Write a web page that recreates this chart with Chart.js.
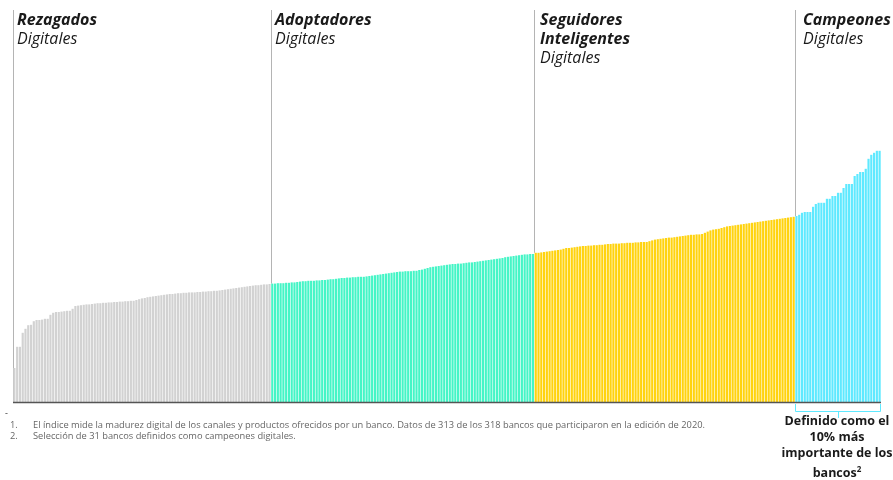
<!DOCTYPE html>
<html>
<head>
<meta charset="utf-8">
<script src="https://cdn.jsdelivr.net/npm/chart.js@4"></script>
<style>
  html, body { margin: 0; padding: 0; background: #fff; }
  #wrap { position: relative; width: 893px; height: 480px; overflow: hidden; font-family: "Open Sans", sans-serif; }
  #chart { position: absolute; left: 0; top: 0; }
  .grp { position: absolute; top: 10px; font-size: 16px; line-height: 19px; color: #1a1a1a; font-style: italic; }
  .grp b { font-weight: 700; }
  .note { position: absolute; left: 10px; font-size: 9.3px; color: #666; white-space: nowrap; }
  .note span { display: inline-block; width: 23px; }
  #callout { position: absolute; left: 767px; width: 140px; top: 413px; text-align: center; font-weight: 700; font-size: 12.5px; line-height: 16px; color: #1a1a1a; white-space: nowrap; }
  #callout sup { font-size: 8px; }
</style>
</head>
<body>
<div id="wrap">
  <canvas id="chart" width="893" height="480"></canvas>
  <div class="grp" style="left:17px"><b>Rezagados</b><br>Digitales</div>
  <div class="grp" style="left:275px"><b>Adoptadores</b><br>Digitales</div>
  <div class="grp" style="left:540px"><b>Seguidores<br>Inteligentes</b><br>Digitales</div>
  <div class="grp" style="left:803px"><b>Campeones</b><br>Digitales</div>
  <div style="position:absolute;left:5px;top:406px;font-size:9px;color:#333">-</div>
  <div class="note" style="top:418px"><span>1.</span>El índice mide la madurez digital de los canales y productos ofrecidos por un banco. Datos de 313 de los 318 bancos que participaron en la edición de 2020.</div>
  <div class="note" style="top:429px"><span>2.</span>Selección de 31 bancos definidos como campeones digitales.</div>
  <div id="callout">Definido como el<br>10% más<br>importante de los<br>bancos<sup>2</sup></div>
</div>
<script>
const groupNames = ['Rezagados Digitales', 'Adoptadores Digitales', 'Seguidores Inteligentes Digitales', 'Campeones Digitales'];
const groupColors = ['#d2d2d2', '#45f5c6', '#ffd30f', '#5fe9ff'];

const rezagados = [
  8.5, 13.8, 13.8, 17.3, 18.3, 19.2, 19.3, 20.2, 20.5, 20.5,
  20.6, 20.8, 20.8, 21.8, 22.3, 22.5, 22.5, 22.6, 22.7, 22.8,
  22.8, 23.3, 24.0, 24.1, 24.2, 24.3, 24.4, 24.4, 24.5, 24.6,
  24.7, 24.7, 24.8, 24.8, 24.9, 24.9, 25.0, 25.0, 25.1, 25.1,
  25.2, 25.2, 25.3, 25.3, 25.5, 25.7, 25.9, 26.0, 26.2, 26.3,
  26.4, 26.5, 26.6, 26.7, 26.8, 26.9, 27.0, 27.0, 27.1, 27.2,
  27.2, 27.3, 27.3, 27.4, 27.4, 27.4, 27.5, 27.5, 27.6, 27.6,
  27.7, 27.7, 27.8, 27.8, 27.9, 28.0, 28.1, 28.2, 28.3, 28.4,
  28.5, 28.6, 28.7, 28.8, 28.9, 29.0, 29.1, 29.2, 29.2, 29.3,
  29.4, 29.4, 29.5
];
const adoptadores = [
  29.6, 29.6, 29.7, 29.7, 29.7, 29.8, 29.8, 29.9, 29.9, 30.0,
  30.1, 30.2, 30.2, 30.3, 30.3, 30.3, 30.4, 30.4, 30.5, 30.5,
  30.6, 30.7, 30.7, 30.8, 30.9, 31.0, 31.0, 31.1, 31.1, 31.2,
  31.2, 31.3, 31.3, 31.3, 31.4, 31.5, 31.6, 31.7, 31.8, 31.9,
  32.0, 32.1, 32.2, 32.3, 32.4, 32.5, 32.6, 32.6, 32.7, 32.7,
  32.7, 32.8, 32.8, 33.0, 33.1, 33.3, 33.5, 33.7, 33.8, 33.9,
  34.0, 34.1, 34.2, 34.3, 34.4, 34.5, 34.5, 34.6, 34.6, 34.7,
  34.8, 34.9, 34.9, 35.0, 35.1, 35.2, 35.3, 35.4, 35.5, 35.6,
  35.7, 35.8, 35.9, 36.0, 36.2, 36.3, 36.4, 36.5, 36.6, 36.7,
  36.8, 36.9, 36.9, 37.0, 37.0
];
const seguidores = [
  37.3, 37.3, 37.4, 37.5, 37.6, 37.7, 37.8, 37.9, 38.0, 38.1,
  38.3, 38.5, 38.5, 38.6, 38.7, 38.8, 38.9, 39.0, 39.0, 39.1,
  39.1, 39.2, 39.2, 39.3, 39.3, 39.4, 39.5, 39.5, 39.6, 39.6,
  39.6, 39.7, 39.7, 39.8, 39.8, 39.8, 39.9, 39.9, 40.0, 40.0,
  40.0, 40.2, 40.4, 40.6, 40.7, 40.8, 40.9, 41.0, 41.1, 41.1,
  41.2, 41.3, 41.4, 41.5, 41.6, 41.7, 41.8, 41.8, 41.9, 41.9,
  42.0, 42.3, 42.6, 42.9, 43.1, 43.2, 43.3, 43.5, 43.7, 43.9,
  44.0, 44.1, 44.2, 44.3, 44.4, 44.5, 44.6, 44.7, 44.8, 44.9,
  45.0, 45.1, 45.2, 45.3, 45.4, 45.5, 45.6, 45.7, 45.8, 45.9,
  46.0, 46.1, 46.2, 46.3
];
const campeones = [
  46.5, 46.8, 47.3, 47.5, 47.5, 47.5, 48.8, 49.5, 49.8, 49.8,
  49.8, 50.8, 50.8, 51.5, 51.5, 52.3, 52.3, 53.5, 54.5, 54.5,
  54.5, 56.5, 57.0, 57.5, 57.5, 58.3, 60.8, 61.8, 62.3, 62.8,
  62.8
];

const groups = [rezagados, adoptadores, seguidores, campeones];
const values = [].concat(...groups);
const labels = values.map((v, i) => 'Banco ' + (i + 1));
const colors = [];
groups.forEach((g, gi) => g.forEach(() => colors.push(groupColors[gi])));

// dividers, baseline and bracket
const decor = {
  id: 'decor',
  beforeDatasetsDraw(chart) {
    const { ctx, chartArea, scales: { x, y } } = chart;
    const step = x.getPixelForValue(1) - x.getPixelForValue(0);
    ctx.save();
    ctx.strokeStyle = '#b4b4b4';
    ctx.lineWidth = 1;
    let idx = 0;
    groups.forEach((g, gi) => {
      const px = Math.round(x.getPixelForValue(idx) - step / 2) + 0.5;
      const endY = gi === 0 ? y.getPixelForValue(0) : y.getPixelForValue(Math.max(values[idx], values[idx - 1]));
      ctx.beginPath();
      ctx.moveTo(px, chartArea.top);
      ctx.lineTo(px, endY);
      ctx.stroke();
      idx += g.length;
    });
    ctx.restore();
  },
  afterDatasetsDraw(chart) {
    const { ctx, chartArea, scales: { x, y } } = chart;
    const step = x.getPixelForValue(1) - x.getPixelForValue(0);
    const base = y.getPixelForValue(0);
    ctx.save();
    ctx.strokeStyle = '#555';
    ctx.lineWidth = 1.5;
    ctx.beginPath();
    ctx.moveTo(chartArea.left, base + 0.5);
    ctx.lineTo(chartArea.right, base + 0.5);
    ctx.stroke();
    // bracket under the champions
    const start = values.length - campeones.length;
    const x0 = Math.round(x.getPixelForValue(start) - step / 2) + 0.5;
    const x1 = Math.round(x.getPixelForValue(values.length - 1) + step / 2) - 0.5;
    const xm = Math.round((x0 + x1) / 2) + 0.5;
    ctx.strokeStyle = '#5fe9ff';
    ctx.lineWidth = 1;
    ctx.beginPath();
    ctx.moveTo(x0, base + 2);
    ctx.lineTo(x0, base + 9.5);
    ctx.lineTo(x1, base + 9.5);
    ctx.lineTo(x1, base + 2);
    ctx.moveTo(xm, base + 9.5);
    ctx.lineTo(xm, base + 16);
    ctx.stroke();
    ctx.restore();
  }
};

new Chart(document.getElementById('chart'), {
  type: 'bar',
  data: {
    labels: labels,
    datasets: [{
      label: 'Índice de madurez digital',
      data: values,
      backgroundColor: colors,
      borderWidth: 0,
      barPercentage: 0.78,
      categoryPercentage: 1
    }]
  },
  options: {
    responsive: false,
    animation: false,
    layout: { padding: { left: 13, right: 12, top: 10, bottom: 78 } },
    plugins: { legend: { display: false }, tooltip: { enabled: false } },
    scales: {
      x: { display: false, offset: true },
      y: { display: false, min: 0, max: 98 }
    }
  },
  plugins: [decor]
});
</script>
</body>
</html>
